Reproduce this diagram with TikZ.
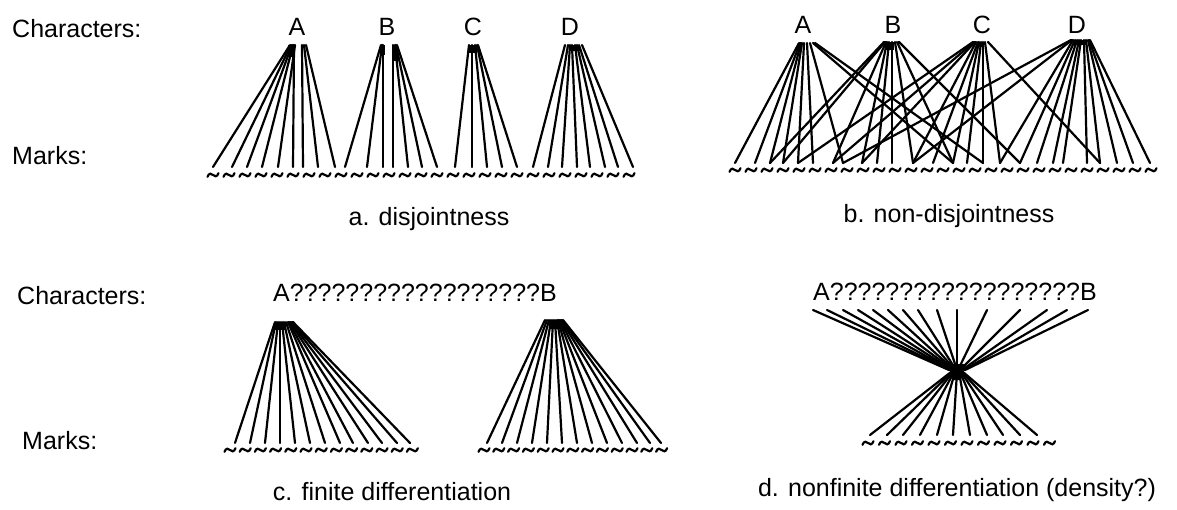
\documentclass[tikz,border=0pt]{standalone}
\usepackage{fontspec}
\setmainfont{Liberation Sans}
\begin{document}
\begin{tikzpicture}[x=1pt,y=-1pt,
  ln/.style={line width=2.2pt, line cap=round},
  lbl/.style={font=\fontsize{25}{30}\selectfont, inner sep=0pt},
  chl/.style={font=\fontsize{25}{30}\selectfont, inner sep=0pt},
  tld/.pic={\draw[line width=2.2pt, line cap=round] (-5.5,1.8) .. controls (-4,-2.5) and (-1.5,-1.5) .. (0,0) .. controls (1.5,1.5) and (4,2.5) .. (5.5,-1.8);}
]
\useasboundingbox (0,0) rectangle (1177,510);

% left labels
\node[lbl, anchor=west] (ch1) at (12,29) {Characters:};
\node[lbl, anchor=west] (mk1) at (12,156) {Marks:};
\node[lbl, anchor=west] (ch2) at (17,296) {Characters:};
\node[lbl, anchor=west] (mk2) at (22,441) {Marks:};

% ---------- panel a ----------
\node[chl] (aAl) at (297,27) {A};
\node[chl] (aBl) at (387,27) {B};
\node[chl] (aCl) at (473,27) {C};
\node[chl] (aDl) at (570,27) {D};
\coordinate (aA) at (298,45);
\coordinate (aB) at (389,45);
\coordinate (aC) at (473,45);
\coordinate (aD) at (573,45);
\foreach \t/\b in {-8/213,-7/232,-6/247,-5/262,-3/278,-4/293,4/303,6/318,8/335}
  \draw[ln] ([xshift=\t pt]aA) -- (\b,167);
\foreach \t/\b in {-8/345,-7/367,-6/383,4/393,6/408,7/422,8/437}
  \draw[ln] ([xshift=\t pt]aB) -- (\b,167);
\foreach \t/\b in {-4/455,-1/472,2/487,4/502,5/517}
  \draw[ln] ([xshift=\t pt]aC) -- (\b,167);
\foreach \t/\b in {-8/533,-5/548,-3/562,-1/577,2/590,4/605,6/618,9/633}
  \draw[ln] ([xshift=\t pt]aD) -- (\b,167);
\fill ([xshift=-10pt]aA) rectangle ([xshift=-3pt,yshift=-12pt]aA);
\fill ([xshift=-9pt]aB) rectangle ([xshift=-4pt,yshift=-10pt]aB);
\fill ([xshift=3pt]aB) rectangle ([xshift=9pt,yshift=-16pt]aB);
\fill ([xshift=-4pt]aC) rectangle ([xshift=4pt,yshift=-8pt]aC);
\fill ([xshift=-3pt]aD) rectangle ([xshift=7pt,yshift=-6pt]aD);
\foreach \x in {0,...,26} \pic at (213+\x*16,175) {tld};
\node[lbl] (capa) at (429,219) {a. disjointness};

% ---------- panel b ----------
\node[chl] (bAl) at (803,25) {A};
\node[chl] (bBl) at (893,25) {B};
\node[chl] (bCl) at (982,25) {C};
\node[chl] (bDl) at (1077,25) {D};
\coordinate (bA) at (807,43);
\coordinate (bB) at (892,42);
\coordinate (bC) at (981,42);
\coordinate (bD) at (1080,40);
\foreach \t/\b in {-8/735,-7/755,-6/770,-5/783,-3/798,0/813,3/843,6/953,8/983}
  \draw[ln] ([xshift=\t pt]bA) -- (\b,163);
\foreach \t/\b in {-8/770,-7/783,-6/833,-5/862,-3/877,0/892,3/913,5/953,7/1020}
  \draw[ln] ([xshift=\t pt]bB) -- (\b,163);
\foreach \t/\b in {-8/798,-7/833,-6/862,-5/913,-3/933,-2/953,0/967,2/983,4/1000,7/1100}
  \draw[ln] ([xshift=\t pt]bC) -- (\b,163);
\foreach \t/\b in {-9/843,-8/913,-7/1000,-5/1020,-3/1037,-1/1053,1/1063,4/1087,6/1100,8/1117,9/1133,10/1150}
  \draw[ln] ([xshift=\t pt]bD) -- (\b,163);
\fill ([xshift=-7pt]bB) rectangle ([xshift=2pt,yshift=-8pt]bB);
\fill ([xshift=-6pt]bD) rectangle ([xshift=6pt,yshift=-5pt]bD);
\fill ([xshift=-3pt]bC) rectangle ([xshift=3pt,yshift=-5pt]bC);
\foreach \x in {0,...,26} \pic at (735+\x*16,170) {tld};
\node[lbl] (capb) at (949,216) {b. non-disjointness};

% ---------- panel c ----------
\node[lbl, anchor=west] (cAB) at (273,293) {A??????????????????B};
\coordinate (cA) at (284,322);
\coordinate (cB) at (554,320);
\foreach \t/\b in {-9/235,-8/250,-6/265,-4/280,-2/295,0/310,2/325,4/340,5/353,6/368,7/382,8/397,9/410}
  \draw[ln] ([xshift=\t pt]cA) -- (\b,443);
\foreach \t/\b in {-9/487,-7/502,-5/517,-3/532,-1/547,1/562,3/577,4/592,5/607,6/622,7/637,8/650,9/661}
  \draw[ln] ([xshift=\t pt]cB) -- (\b,443);
\fill ([xshift=-9pt]cA) rectangle ([xshift=2pt,yshift=-8pt]cA);
\fill ([xshift=-5pt]cB) rectangle ([xshift=7pt,yshift=-9pt]cB);
\foreach \x in {0,...,12} \pic at (230+\x*15.2,450) {tld};
\foreach \x in {0,...,12} \pic at (484+\x*14.8,450) {tld};
\node[lbl] (capc) at (392,492) {c. finite differentiation};

% ---------- panel d ----------
\node[lbl, anchor=west] (dAB) at (813,292) {A??????????????????B};
\coordinate (dX) at (957,370);
\foreach \s/\e in {813/-8,827/-7,843/-6,858/-5,873/-4,888/-3,903/-2,918/-1,937/0,957/0,987/1,1020/3,1047/5,1067/7,1088/8}
  \draw[ln] (\s,310) -- ([xshift=\e pt]dX);
\foreach \b/\o in {870/-6,887/-5,903/-4,920/-3,937/-2,953/0,970/2,987/3,1003/4,1020/5,1037/6}
  \draw[ln] ([xshift=\o pt, yshift=-2pt]dX) -- (\b,435);
\fill ([xshift=-8pt, yshift=6pt]dX) -- ([xshift=8pt, yshift=6pt]dX) -- ([xshift=4pt,yshift=-10pt]dX) -- ([xshift=-4pt,yshift=-10pt]dX) -- cycle;
\foreach \x in {0,...,11} \pic at (868+\x*16.5,443) {tld};
\node[lbl] (capd) at (957,490) {d. nonfinite differentiation (density?)};
\end{tikzpicture}
\end{document}
